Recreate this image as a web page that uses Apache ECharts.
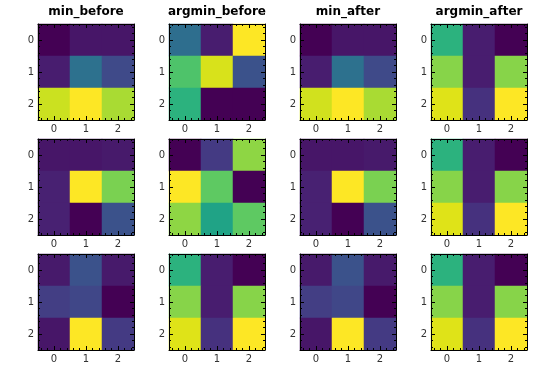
<!DOCTYPE html>
<html>
<head>
<meta charset="utf-8">
<script src="https://cdn.jsdelivr.net/npm/echarts@6/dist/echarts.min.js"></script>
<style>html,body{margin:0;padding:0;background:#fff}#c{width:540px;height:372px}</style>
</head>
<body>
<div id="c"></div>
<script>
// Column titles and tick labels
const titles = ['min_before', 'argmin_before', 'min_after', 'argmin_after'];
const tickLabels = ['0', '1', '2'];

// Normalized cell values (rows top->bottom, columns left->right), per panel
const minBefore1 = [[0.00, 0.06, 0.06], [0.08, 0.37, 0.22], [0.92, 1.00, 0.87]];
const argminBefore1 = [[0.36, 0.08, 1.00], [0.72, 0.94, 0.25], [0.64, 0.00, 0.00]];
const minAfter1 = [[0.00, 0.06, 0.06], [0.08, 0.37, 0.22], [0.93, 1.00, 0.87]];
const argminAfter1 = [[0.64, 0.08, 0.00], [0.82, 0.08, 0.82], [0.95, 0.14, 1.00]];

const minBefore2 = [[0.06, 0.06, 0.07], [0.09, 1.00, 0.80], [0.09, 0.00, 0.25]];
const argminBefore2 = [[0.00, 0.17, 0.83], [1.00, 0.75, 0.00], [0.83, 0.58, 0.75]];
const minAfter2 = [[0.06, 0.06, 0.07], [0.09, 1.00, 0.80], [0.09, 0.00, 0.25]];
const argminAfter2 = [[0.64, 0.08, 0.00], [0.82, 0.08, 0.82], [0.95, 0.14, 1.00]];

const minBefore3 = [[0.07, 0.25, 0.07], [0.18, 0.21, 0.00], [0.06, 1.00, 0.17]];
const argminBefore3 = [[0.64, 0.08, 0.00], [0.82, 0.08, 0.82], [0.95, 0.14, 1.00]];
const minAfter3 = [[0.07, 0.25, 0.07], [0.18, 0.21, 0.00], [0.06, 1.00, 0.17]];
const argminAfter3 = [[0.64, 0.08, 0.00], [0.82, 0.08, 0.82], [0.95, 0.14, 1.00]];

const panels = [
  minBefore1, argminBefore1, minAfter1, argminAfter1,
  minBefore2, argminBefore2, minAfter2, argminAfter2,
  minBefore3, argminBefore3, minAfter3, argminAfter3
];

const viridis = ['#440154','#471365','#482475','#463480','#414487','#3b528b','#355f8d','#2f6c8e','#2a788e','#25848e','#21918c','#1e9c89','#22a884','#2fb47c','#44bf70','#5ec962','#7ad151','#9bd93c','#bddf26','#dfe318','#fde725'];

const minorCats = Array.from({length: 15}, (_, i) => 'm' + i);

const FONT = 'DejaVu Sans';
const LEFT0 = 38, TOP0 = 24, DX = 131, DY = 115, SIZE = 96;

const grid = [], xAxis = [], yAxis = [], series = [], title = [];

function mainAxis(g, pos, showLabel, inverse) {
  return {
    type: 'category', gridIndex: g, data: tickLabels, position: pos, inverse: !!inverse,
    boundaryGap: true, z: 10,
    axisLine: {show: true, onZero: false, lineStyle: {color: '#000', width: 1}},
    axisTick: {show: true, inside: true, alignWithLabel: true, interval: 0, length: 4, lineStyle: {color: '#000', width: 1}},
    axisLabel: {show: showLabel, interval: 0, margin: 4, fontSize: 10, color: '#333', fontFamily: FONT},
    splitLine: {show: false}
  };
}
function minorAxis(g, pos) {
  return {
    type: 'category', gridIndex: g, data: minorCats, position: pos, min: 0, max: 14,
    boundaryGap: true, z: 10,
    axisLine: {show: false, onZero: false},
    axisTick: {show: true, inside: true, alignWithLabel: true, interval: 0, length: 2, lineStyle: {color: '#000', width: 1}},
    axisLabel: {show: false},
    splitLine: {show: false}
  };
}

panels.forEach((vals, g) => {
  const r = Math.floor(g / 4), c = g % 4;
  grid.push({left: LEFT0 + DX * c, top: TOP0 + DY * r, width: SIZE, height: SIZE, containLabel: false});
  xAxis.push(mainAxis(g, 'bottom', true), mainAxis(g, 'top', false), minorAxis(g, 'bottom'), minorAxis(g, 'top'));
  yAxis.push(mainAxis(g, 'left', true, true), mainAxis(g, 'right', false, true), minorAxis(g, 'left'), minorAxis(g, 'right'));
  const data = [];
  vals.forEach((row, yi) => row.forEach((v, xi) => data.push([xi, yi, v])));
  series.push({
    type: 'heatmap', xAxisIndex: g * 4, yAxisIndex: g * 4, data: data, z: 1,
    itemStyle: {borderWidth: 0}, emphasis: {disabled: true}, silent: true, progressive: 0
  });
});

titles.forEach((t, c) => {
  title.push({
    text: t, left: LEFT0 + DX * c + SIZE / 2, top: 6, textAlign: 'center', padding: 0,
    textStyle: {fontSize: 12, fontWeight: 'bold', color: '#000', fontFamily: FONT}
  });
});

const chart = echarts.init(document.getElementById('c'), null, {renderer: 'canvas'});
chart.setOption({
  animation: false,
  backgroundColor: '#fff',
  title: title,
  grid: grid,
  xAxis: xAxis,
  yAxis: yAxis,
  visualMap: {
    type: 'continuous', show: false, min: 0, max: 1, dimension: 2,
    seriesIndex: series.map((_, i) => i),
    inRange: {color: viridis}
  },
  series: series
});
</script>
</body>
</html>
